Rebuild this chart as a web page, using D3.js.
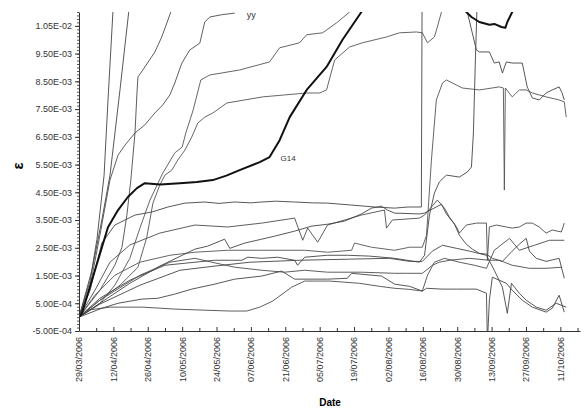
<!DOCTYPE html>
<html>
<head>
<meta charset="utf-8">
<script src="https://cdn.jsdelivr.net/npm/d3@7"></script>
<style>
  body { margin: 0; background: #fff; }
  text { font-family: Arial, "Liberation Sans", sans-serif; }
</style>
</head>
<body>
<div id="chart"></div>
<script>
// x = days after 29/03/2006, value = strain in units of 1e-3
const lineA = [[0,0],[4.5,1.3],[7.3,2.8],[10.2,5.1],[11.8,7.8],[14,11.3]];
const lineB = [[0,0],[5.3,1.7],[9.3,3.5],[12.6,5.1],[16.7,8.2],[20.5,11.2]];
const lineC = [[0,0],[8.5,0.97],[14.6,1.87],[17.5,2.52],[19.5,3.68],[21.1,4.94],[22.8,6.64],[23.6,8.08],[24,8.66],[26,8.91],[30.9,9.56],[33.7,10.1],[37.4,11.0],[38.5,11.3]];
const lineYY = [[0,0],[4.5,1.1],[8.5,2.95],[12.6,4.94],[15.9,5.84],[18.7,6.2],[22.8,6.64],[26.8,6.93],[30.9,7.36],[34.1,7.65],[37,8.01],[39,8.44],[41.9,9.16],[45.1,9.63],[49.2,9.88],[51.2,10.64],[53.3,10.82],[58,10.9],[63.4,10.96]];
const lineE = [[0,0],[4.5,0.25],[8.5,0.5],[14.6,1.15],[20.7,2.12],[24.8,3.21],[28.9,4.22],[34.1,5.19],[39,5.92],[42,6.13],[43.5,6.64],[46.5,7.47],[49.6,8.55],[53.3,8.73],[65.4,8.91],[77.6,9.2],[81.7,9.71],[89.8,9.89],[92.7,10.18],[99.2,10.25],[104.9,10.61],[110.2,11.0],[112,11.3]];
const lineF = [[0,0],[8.5,0.61],[16.7,1.15],[24,1.8],[27.6,2.88],[30.1,4.11],[32.9,4.76],[35,5.12],[37.8,5.3],[40.2,5.66],[43.1,6.02],[45.9,6.49],[48.4,7.0],[51.2,7.21],[54.5,7.36],[60.2,7.72],[67.5,7.83],[74.8,7.94],[83.7,8.01],[92.7,8.08],[98,8.08],[100.8,8.19],[104.1,9.27],[110.2,9.74],[115.4,9.89],[125.2,10.1],[130.5,10.25],[137.4,10.28],[139.8,10.25],[141.9,9.89],[144.7,10.1],[145.9,10.46],[147.6,11.0],[149,11.4]];
const lineG14 = [[0,0],[1.2,0.14],[6.5,1.69],[11.8,3.24],[15.9,3.86],[19.9,4.33],[23.6,4.65],[26.8,4.83],[33,4.78],[41.1,4.83],[48,4.87],[54.5,4.94],[60,5.1],[65.4,5.3],[73.6,5.59],[77.6,5.77],[81.7,6.38],[85.8,7.21],[92.7,8.19],[100.8,9.02],[107.3,10.0],[115,11.0],[130,13],[155.7,11.5],[157.7,11.0],[159.8,10.82],[163,10.64],[167.1,10.54],[169.1,10.57],[172,10.46],[173.6,10.43],[174.4,10.64],[176.4,11.0],[177.6,11.3]];
const lineH = [[0,0],[4.5,0.97],[9.3,2.67],[14.6,3.32],[22.8,3.68],[29.7,3.79],[36.2,3.97],[43.1,4.11],[51.2,4.15],[57,4.1],[63.4,4.15],[70,4.12],[74.4,4.15],[80,4.18],[87.8,4.15],[95,4.12],[101.2,4.11],[111,4.04],[120.3,3.97],[128.5,3.93],[134,3.97],[139.4,3.97],[139.8,14],[157.3,14],[158.1,11.0],[161.8,9.63],[163,9.56],[167.1,9.56],[169.1,9.16],[171.1,9.2],[172.4,8.8],[174,9.2],[176.4,9.16],[180.5,9.16],[182.5,8.3],[184.6,7.9],[187.4,7.83],[190.2,8.08],[192.7,8.19],[195.5,8.3],[196.7,8.08],[197.6,7.83]];
const lineI = [[0,0],[6.5,0.79],[14.6,1.51],[24.8,1.98],[37,2.23],[47.2,2.34],[60.6,2.41],[74.4,2.41],[91.9,2.41],[101.2,2.34],[111,2.41],[112.2,2.67],[119.1,2.52],[128.5,2.41],[134.6,2.52],[139.8,2.52],[141.5,2.95],[143.5,5.66],[145.5,7.83],[148,8.44],[149.6,8.55],[156.1,8.26],[163,8.19],[171.1,8.3],[172.8,8.26],[173.2,4.58],[173.6,8.26],[176.4,7.94],[179.3,8.19],[182.1,8.19],[184.6,8.08],[190.2,7.94],[195.5,7.83],[197.6,7.76],[198.4,7.21]];
const lineK = [[0,0],[8.5,0.68],[20.7,1.33],[35,1.87],[47.2,1.98],[55.3,2.05],[66.3,2.05],[68.7,2.16],[74.4,2.12],[80.9,2.16],[87.8,2.05],[89,1.87],[91.9,2.16],[101.2,2.23],[109.3,2.23],[118.3,2.2],[128.5,2.12],[138.6,1.98],[140.7,2.23],[142.7,3.68],[144.7,4.47],[146.7,4.87],[149.6,5.12],[154.9,5.05],[158.1,5.23],[159.8,5.41],[160.6,6.64],[161.4,9.27],[162,11.0],[162.5,11.5]];
const lineM = [[0,0],[6.5,0.97],[12.6,1.98],[20.7,2.6],[32.9,3.03],[47.2,3.32],[60.6,3.25],[74.4,3.39],[87.8,3.57],[91.1,2.77],[93.1,3.21],[97.2,2.7],[101.2,3.32],[115,3.68],[124.4,3.86],[125.2,3.21],[127.6,3.5],[138.6,3.57],[140.7,3.68],[143.5,3.97],[145.9,4.22],[148.8,3.93],[150.8,3.61],[153.7,3.25],[154.9,3.03],[157.7,3.32],[161.8,3.39],[165.9,3.39],[166.3,2.05],[167.1,3.25],[169.9,3.32],[174,3.25],[176.4,3.21],[179.3,3.25],[182.1,3.39],[184.6,3.39],[187.4,3.25],[190.2,3.03],[192.7,3.14],[196.4,3.07],[197.6,3.39]];
const lineN = [[0,0],[8.5,0.5],[20.7,1.22],[32.9,1.84],[47.2,2.45],[52.4,2.56],[59.3,2.81],[61.4,2.48],[67.5,2.67],[74.4,2.81],[79.7,2.92],[87.8,3.1],[94.7,3.28],[101.2,3.35],[108.1,3.46],[115,3.72],[119.1,3.93],[123.2,4.0],[125.6,3.86],[128.5,3.75],[138.6,3.72],[140.7,3.75],[147.6,4.07],[149.6,3.72],[152.9,3.35],[154.9,2.95],[157.7,2.63],[160.2,2.45],[163,2.3],[165.9,2.27],[168.3,2.12],[172.4,2.01],[176.4,2.38],[179.3,2.63],[182.1,2.84],[183.4,2.38],[186.2,2.12],[190.2,2.01],[195.5,2.12],[197.6,1.4]];
const lineP = [[0,0],[8.5,0.61],[24.8,1.51],[37,1.98],[47.2,2.12],[54.1,1.98],[63.4,1.8],[74.4,1.69],[83.7,1.62],[91.9,1.69],[101.2,1.62],[115,1.62],[128.5,1.58],[133.3,1.58],[139.8,1.58],[143.9,1.87],[146.7,1.98],[150.8,2.05],[158.9,2.12],[167.1,2.05],[171.1,2.05],[176.4,1.87],[183.4,1.76],[190.2,1.76],[196.7,1.8]];
const lineZ = [[0,0],[8.5,0.47],[24.8,1.15],[41.1,1.69],[55.3,1.84],[69.6,1.98],[89.8,2.05],[110.2,2.09],[126.4,2.12],[134.6,2.01],[139.8,2.01],[143.9,2.38],[148,2.59],[153.7,2.48],[159,2.38],[165.9,2.23],[169.1,1.69],[172.4,1.08],[174.4,0.14],[176.1,1.22],[179.3,0.86],[182.1,0.61],[186.2,0.36],[190.2,0.25],[194.3,0.5],[198.4,0.36]];
const lineR = [[0,0],[9.3,0.32],[15.9,0.5],[25.6,0.65],[32.1,0.68],[39,0.83],[45.9,1.01],[55.3,1.19],[63.4,1.37],[74.4,1.48],[82.5,1.66],[87.8,1.37],[101.2,1.37],[109.3,1.4],[111,1.58],[123.2,1.48],[128.5,1.19],[134.6,1.11],[139.8,0.94],[141.5,1.04],[148,1.01],[153.7,1.01],[161.8,1.01],[165.9,0.86],[166.3,-0.9],[167.1,0.61],[168.3,1.44],[174,1.22],[176.4,0.97],[180.5,0.61],[184.6,0.36],[190.2,0.18],[192.7,0.32],[195.5,0.79],[197.6,0.18]];
const lineT = [[0,0],[3.2,0.25],[12.6,0.36],[26,0.36],[39,0.29],[51.2,0.25],[61.4,0.22],[68.3,0.22],[73.6,0.36],[78.9,0.58],[86.6,1.08],[91.9,1.3],[102,1.3],[114.2,1.22],[122.4,1.11],[128.5,1.04],[134.6,1.0],[139.8,0.94],[141.9,1.51],[144.7,1.98],[148.8,2.12],[154.9,1.98],[161,1.87],[165.9,1.76],[169.1,2.41],[175.3,2.84],[179.3,2.41],[185.4,2.59],[191.5,2.77],[197.6,2.77]];

const xTickLabels = ["29/03/2006","12/04/2006","26/04/2006","10/05/2006","24/05/2006","07/06/2006",
  "21/06/2006","05/07/2006","19/07/2006","02/08/2006","16/08/2006","30/08/2006","13/09/2006",
  "27/09/2006","11/10/2006"];
const yTickLabels = ["-5.00E-04","5.00E-04","1.50E-03","2.50E-03","3.50E-03","4.50E-03","5.50E-03",
  "6.50E-03","7.50E-03","8.50E-03","9.50E-03","1.05E-02"];

const series = [
  {name: "A", data: lineA, color: "#444"},
  {name: "B", data: lineB, color: "#444"},
  {name: "C", data: lineC, color: "#4c4c4c"},
  {name: "yy", data: lineYY, color: "#4c4c4c"},
  {name: "E", data: lineE, color: "#555"},
  {name: "F", data: lineF, color: "#555"},
  {name: "H", data: lineH, color: "#444"},
  {name: "I", data: lineI, color: "#555"},
  {name: "K", data: lineK, color: "#444"},
  {name: "M", data: lineM, color: "#4c4c4c"},
  {name: "N", data: lineN, color: "#444"},
  {name: "P", data: lineP, color: "#4c4c4c"},
  {name: "Z", data: lineZ, color: "#444"},
  {name: "R", data: lineR, color: "#444"},
  {name: "T", data: lineT, color: "#4c4c4c"},
  {name: "G14", data: lineG14, color: "#111", bold: true}
];

const width = 587, height = 419;
const parseDate = d3.utcParse("%d/%m/%Y");
const startDate = parseDate(xTickLabels[0]);
const toDate = d => new Date(+startDate + d * 864e5);

const x = d3.scaleUtc()
  .domain([startDate, parseDate("19/10/2006")])
  .range([79, 580]);
const y = d3.scaleLinear().domain([-0.5, 11.0]).range([331, 12]);

const svg = d3.select("#chart")
  .append("svg")
  .attr("width", width)
  .attr("height", height);

svg.append("clipPath").attr("id", "plot")
  .append("rect")
  .attr("x", x.range()[0]).attr("y", y.range()[1])
  .attr("width", x.range()[1] - x.range()[0])
  .attr("height", y.range()[0] - y.range()[1] + 1);

// lines
const line = d3.line()
  .x(d => x(toDate(d[0])))
  .y(d => y(d[1]));

svg.append("g")
  .attr("clip-path", "url(#plot)")
  .attr("fill", "none")
  .attr("stroke-linejoin", "round")
  .selectAll("path")
  .data(series)
  .join("path")
  .attr("stroke", d => d.color)
  .attr("stroke-width", d => d.bold ? 2 : 0.9)
  .attr("d", d => line(d.data));

// series labels
const lastYY = lineYY[lineYY.length - 1];
svg.append("text")
  .attr("x", x(toDate(lastYY[0])) + 12)
  .attr("y", y(lastYY[1]) + 5)
  .attr("font-size", 9)
  .attr("fill", "#333")
  .text("yy");

const g14Pt = lineG14[15];
svg.append("text")
  .attr("x", x(toDate(g14Pt[0])) + 11)
  .attr("y", y(g14Pt[1]) + 4)
  .attr("font-size", 8)
  .attr("fill", "#333")
  .text("G14");

// x axis
const xTicks = xTickLabels.map(parseDate);
const xMinor = xTicks.map(t => d3.utcDay.offset(t, 7)).filter(t => t <= x.domain()[1]);

svg.append("g")
  .attr("transform", `translate(0,${y(-0.5)})`)
  .call(d3.axisBottom(x).tickValues(xMinor).tickSize(-3).tickSizeOuter(0).tickFormat(""))
  .call(g => g.select(".domain").remove())
  .selectAll("line").attr("stroke", "#333");

svg.append("g")
  .attr("transform", `translate(0,${y(-0.5)})`)
  .call(d3.axisBottom(x).tickValues(xTicks).tickSize(-4).tickSizeOuter(0)
    .tickFormat((d, i) => xTickLabels[i]))
  .call(g => g.select(".domain").attr("stroke", "#333"))
  .call(g => g.selectAll("line").attr("stroke", "#333"))
  .selectAll("text")
  .attr("font-size", 9)
  .attr("fill", "#333")
  .attr("text-anchor", "end")
  .attr("transform", "rotate(-90)")
  .attr("x", -6)
  .attr("y", 0)
  .attr("dy", "0.32em");

// y axis
const yTicks = yTickLabels.map(s => +s * 1e3);
svg.append("g")
  .attr("transform", `translate(${x.range()[0]},0)`)
  .call(d3.axisLeft(y).tickValues(d3.range(-0.5, 11.01, 0.125)).tickSize(2).tickSizeOuter(0).tickFormat(""))
  .call(g => g.select(".domain").remove())
  .selectAll("line").attr("stroke", "#555");

svg.append("g")
  .attr("transform", `translate(${x.range()[0]},0)`)
  .call(d3.axisLeft(y).tickValues(yTicks).tickSize(4).tickSizeOuter(0)
    .tickFormat((d, i) => yTickLabels[i]))
  .call(g => g.select(".domain").attr("stroke", "#333"))
  .call(g => g.selectAll("line").attr("stroke", "#333"))
  .selectAll("text")
  .attr("font-size", 9)
  .attr("fill", "#333");

// axis titles
svg.append("text")
  .attr("transform", "translate(23,166) rotate(-90)")
  .attr("text-anchor", "middle")
  .attr("font-size", 15)
  .attr("font-weight", "bold")
  .text("ε");

svg.append("text")
  .attr("x", 330)
  .attr("y", 406)
  .attr("text-anchor", "middle")
  .attr("font-size", 10)
  .attr("font-weight", "bold")
  .text("Date");
</script>
</body>
</html>
